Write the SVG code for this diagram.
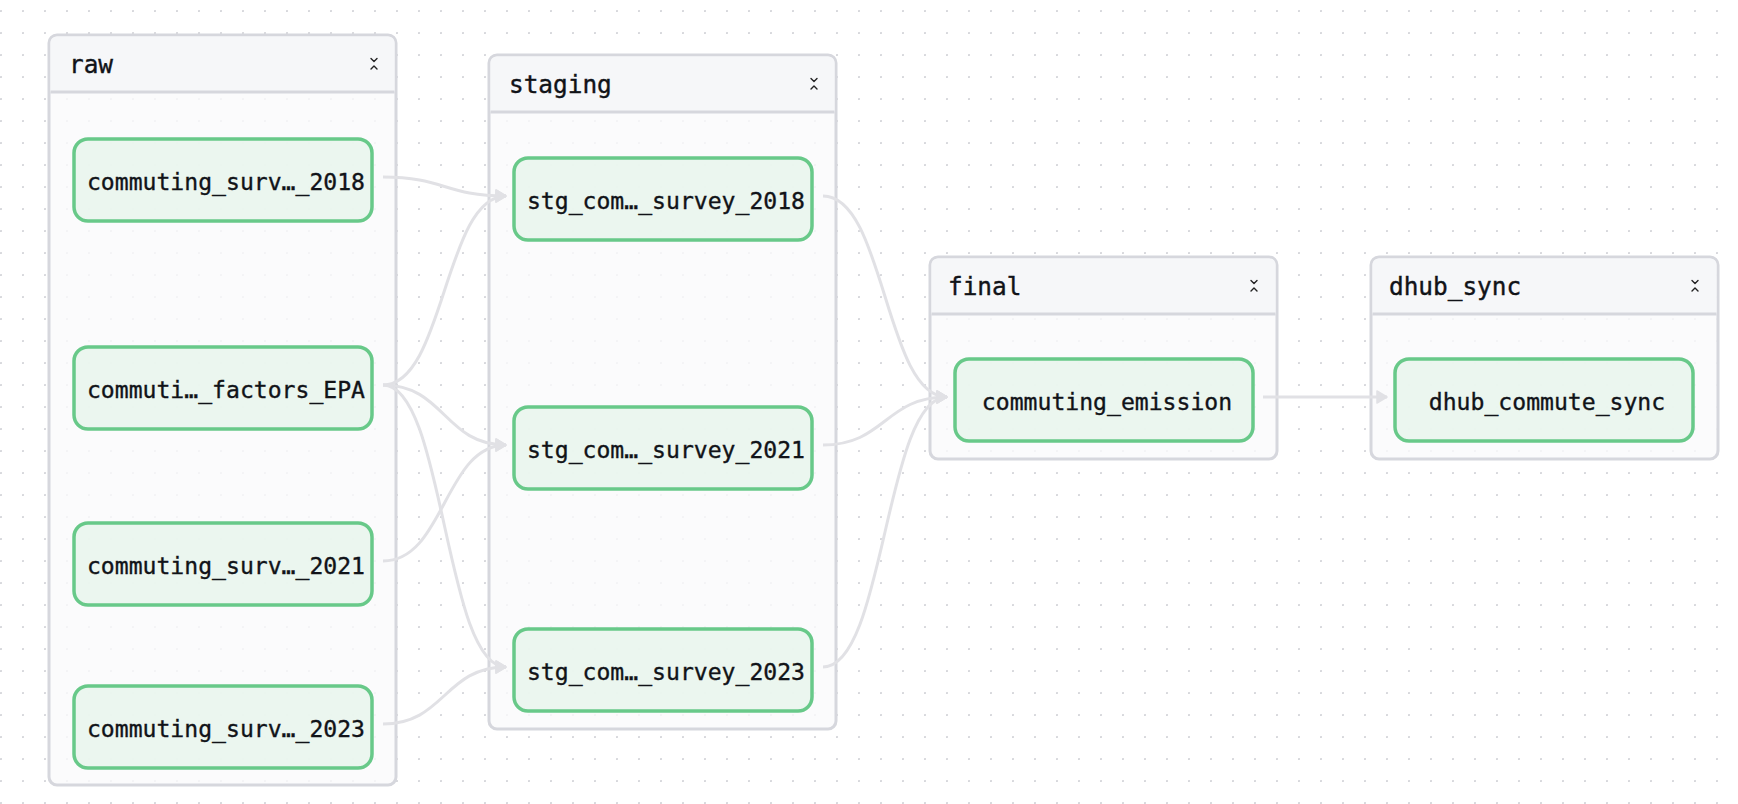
<svg xmlns="http://www.w3.org/2000/svg" width="1738" height="804" viewBox="0 0 1738 804">
<style>
.grp-body{fill:#fafafb;fill-opacity:0.8;stroke:#d6d7dd;stroke-width:3}
.grp-head{fill:#f6f7f9;stroke:none}
.grp-sep{stroke:#d6d7dd;stroke-width:3}
.title{font-family:"DejaVu Sans Mono","Liberation Mono",monospace;font-size:24.4px;fill:#111318;stroke:#111318;stroke-width:0.4}
.node rect{fill:#e8f4ec;fill-opacity:0.85;stroke:#68c989;stroke-width:3.5}
.node text{font-family:"DejaVu Sans Mono","Liberation Mono",monospace;font-size:23.1px;fill:#111318;stroke:#111318;stroke-width:0.35;text-anchor:middle}
.edge{fill:none;stroke:#e1e1e5;stroke-width:3}
.chev{fill:none;stroke:#222;stroke-width:1.4;stroke-linecap:round;stroke-linejoin:round}
</style>
<defs>
<pattern id="dots" patternUnits="userSpaceOnUse" x="0" y="0" width="22" height="22">
<circle cx="1" cy="11" r="1.1" fill="#d2d3d8"/>
</pattern>
<marker id="arrow" markerUnits="userSpaceOnUse" markerWidth="14" markerHeight="16" viewBox="0 0 14 16" refX="12" refY="8" orient="auto">
<path d="M2,2 L12,8 L2,14 Z" fill="#e1e1e5" stroke="#e1e1e5" stroke-width="1.5" stroke-linejoin="round"/>
</marker>
</defs>
<rect x="0" y="0" width="1738" height="804" fill="#ffffff"/>
<rect x="0" y="0" width="1738" height="804" fill="url(#dots)"/>

<g id="group-raw">
<rect class="grp-body" x="49" y="35" width="347" height="750" rx="8"/>
<path class="grp-head" d="M57,36.5 H388 Q394.5,36.5 394.5,43 V92 H50.5 V43 Q50.5,36.5 57,36.5 Z"/>
<line class="grp-sep" x1="50.5" y1="92" x2="394.5" y2="92"/>
<text class="title" x="69" y="73">raw</text>
<path class="chev" d="M371,58.5 L374,61.5 L377,58.5 M371,69 L374,66 L377,69"/>
</g>

<g id="group-staging">
<rect class="grp-body" x="489" y="55" width="347" height="674" rx="8"/>
<path class="grp-head" d="M497,56.5 H828 Q834.5,56.5 834.5,63 V112 H490.5 V63 Q490.5,56.5 497,56.5 Z"/>
<line class="grp-sep" x1="490.5" y1="112" x2="834.5" y2="112"/>
<text class="title" x="509" y="93">staging</text>
<path class="chev" d="M811,78.5 L814,81.5 L817,78.5 M811,89 L814,86 L817,89"/>
</g>

<g id="group-final">
<rect class="grp-body" x="930" y="257" width="347" height="202" rx="8"/>
<path class="grp-head" d="M938,258.5 H1269 Q1275.5,258.5 1275.5,265 V314 H931.5 V265 Q931.5,258.5 938,258.5 Z"/>
<line class="grp-sep" x1="931.5" y1="314" x2="1275.5" y2="314"/>
<text class="title" x="948" y="295">final</text>
<path class="chev" d="M1251,280.5 L1254,283.5 L1257,280.5 M1251,291 L1254,288 L1257,291"/>
</g>

<g id="group-dhub_sync">
<rect class="grp-body" x="1371" y="257" width="347" height="202" rx="8"/>
<path class="grp-head" d="M1379,258.5 H1710 Q1716.5,258.5 1716.5,265 V314 H1372.5 V265 Q1372.5,258.5 1379,258.5 Z"/>
<line class="grp-sep" x1="1372.5" y1="314" x2="1716.5" y2="314"/>
<text class="title" x="1389" y="295">dhub_sync</text>
<path class="chev" d="M1692,280.5 L1695,283.5 L1698,280.5 M1692,291 L1695,288 L1698,291"/>
</g>

<g id="edges">
<path class="edge" marker-end="url(#arrow)" d="M383,177 C444.5,177 444.5,196 506,196"/>
<path class="edge" marker-end="url(#arrow)" d="M383,385 C444.5,385 444.5,196 506,196"/>
<path class="edge" marker-end="url(#arrow)" d="M383,385 C444.5,385 444.5,445 506,445"/>
<path class="edge" marker-end="url(#arrow)" d="M383,385 C444.5,385 444.5,667 506,667"/>
<path class="edge" marker-end="url(#arrow)" d="M383,561 C444.5,561 444.5,445 506,445"/>
<path class="edge" marker-end="url(#arrow)" d="M383,724 C444.5,724 444.5,667 506,667"/>
<path class="edge" marker-end="url(#arrow)" d="M823,196 C885,196 885,397 947,397"/>
<path class="edge" marker-end="url(#arrow)" d="M823,445 C885,445 885,397 947,397"/>
<path class="edge" marker-end="url(#arrow)" d="M823,667 C885,667 885,397 947,397"/>
<path class="edge" marker-end="url(#arrow)" d="M1263,397 L1387,397"/>
</g>

<g id="node-commuting_survey_2018" class="node">
<rect x="74" y="139" width="298" height="82" rx="14"/>
<text x="226" y="190">commuting_surv…_2018</text>
</g>
<g id="node-commuting_factors_EPA" class="node">
<rect x="74" y="347" width="298" height="82" rx="14"/>
<text x="226" y="398">commuti…_factors_EPA</text>
</g>
<g id="node-commuting_survey_2021" class="node">
<rect x="74" y="523" width="298" height="82" rx="14"/>
<text x="226" y="574">commuting_surv…_2021</text>
</g>
<g id="node-commuting_survey_2023" class="node">
<rect x="74" y="686" width="298" height="82" rx="14"/>
<text x="226" y="737">commuting_surv…_2023</text>
</g>

<g id="node-stg_survey_2018" class="node">
<rect x="514" y="158" width="298" height="82" rx="14"/>
<text x="666" y="209">stg_com…_survey_2018</text>
</g>
<g id="node-stg_survey_2021" class="node">
<rect x="514" y="407" width="298" height="82" rx="14"/>
<text x="666" y="458">stg_com…_survey_2021</text>
</g>
<g id="node-stg_survey_2023" class="node">
<rect x="514" y="629" width="298" height="82" rx="14"/>
<text x="666" y="680">stg_com…_survey_2023</text>
</g>

<g id="node-commuting_emission" class="node">
<rect x="955" y="359" width="298" height="82" rx="14"/>
<text x="1107" y="410">commuting_emission</text>
</g>

<g id="node-dhub_commute_sync" class="node">
<rect x="1395" y="359" width="298" height="82" rx="14"/>
<text x="1547" y="410">dhub_commute_sync</text>
</g>
</svg>
